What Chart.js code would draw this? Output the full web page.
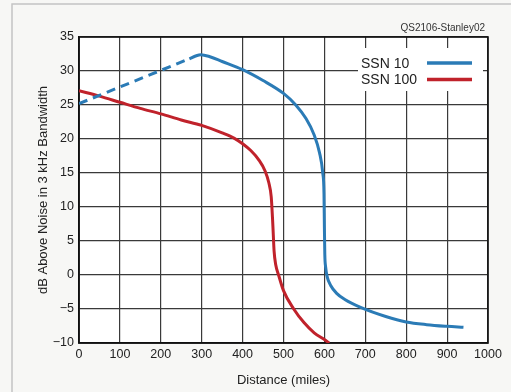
<!DOCTYPE html>
<html>
<head>
<meta charset="utf-8">
<script src="https://cdn.jsdelivr.net/npm/chart.js@4/dist/chart.umd.min.js"></script>
<style>
  html, body { margin: 0; padding: 0; background: #f7f7f5; }
  #wrap { width: 511px; height: 392px; position: relative; }
</style>
</head>
<body>
<div id="wrap"><canvas id="chart" width="511" height="392"></canvas></div>
<script>
// SSN 10, dashed part (extrapolated)
const ssn10DashDist = [0, 270]
const ssn10DashDb = [25.2, 31.8]

// SSN 10, solid part
const ssn10Dist = [270, 285, 298, 320, 350, 400, 450, 500, 530, 555, 575, 588, 596, 599, 600, 601, 603, 607, 615, 630, 650, 690, 750, 800, 850, 900, 940]
const ssn10Db = [31.8, 32.2, 32.4, 32.1, 31.4, 30.2, 28.6, 26.7, 25.0, 23.0, 20.6, 18.0, 15.0, 12.0, 7.0, 3.0, 1.2, -0.3, -1.5, -2.7, -3.6, -4.8, -6.1, -6.9, -7.3, -7.55, -7.7]

// SSN 100
const ssn100Dist = [0, 50, 100, 150, 200, 250, 300, 350, 380, 400, 420, 440, 455, 464, 470, 473, 475, 477, 481, 488, 500, 525, 550, 575, 600, 612]
const ssn100Db = [27.1, 26.3, 25.4, 24.5, 23.7, 22.8, 22.0, 20.9, 20.1, 19.3, 18.3, 16.9, 15.3, 13.6, 11.5, 8.5, 6.0, 3.5, 1.5, 0.0, -2.3, -5.0, -7.0, -8.5, -9.5, -10]

const legendLabels = ['SSN 10', 'SSN 100']
const blue = '#2b7bb6'
const red = '#c0222b'

function pts(xs, ys) {
  return xs.map((x, i) => ({ x: x, y: ys[i] }))
}

const fontFam = '"Liberation Sans", Arial, sans-serif'

const extras = {
  id: 'extras',
  beforeDraw(chart) {
    const { ctx, chartArea: a } = chart
    ctx.save()
    ctx.fillStyle = '#ffffff'
    ctx.fillRect(a.left, a.top, a.right - a.left, a.bottom - a.top)
    // outer frame
    ctx.strokeStyle = '#c4c4c4'
    ctx.lineWidth = 1.5
    ctx.beginPath()
    ctx.moveTo(12, 392)
    ctx.lineTo(12, 4)
    ctx.lineTo(511, 4)
    ctx.stroke()
    ctx.restore()
  },
  beforeDatasetsDraw(chart) {
    const { ctx, chartArea: a } = chart
    ctx.save()
    ctx.strokeStyle = '#111'
    ctx.lineWidth = 1.6
    ctx.strokeRect(a.left, a.top, a.right - a.left, a.bottom - a.top)
    ctx.restore()
  },
  afterDatasetsDraw(chart) {
    const { ctx, chartArea: a } = chart
    ctx.save()
    // legend box
    const bx = a.right - 130, by = a.top + 11
    ctx.fillStyle = '#ffffff'
    ctx.fillRect(bx, by, 125, 43)
    ctx.font = '14px ' + fontFam
    ctx.textBaseline = 'middle'
    ctx.textAlign = 'left'
    const cols = [blue, red]
    legendLabels.forEach((lab, i) => {
      const yy = by + 15 + i * 16.6
      ctx.fillStyle = '#222'
      ctx.fillText(lab, bx + 3, yy + 1)
      ctx.strokeStyle = cols[i]
      ctx.lineWidth = 3.5
      ctx.beginPath()
      ctx.moveTo(bx + 69, yy)
      ctx.lineTo(bx + 114, yy)
      ctx.stroke()
    })
    // figure id
    ctx.fillStyle = '#333'
    ctx.font = '10px ' + fontFam
    ctx.textAlign = 'right'
    ctx.textBaseline = 'alphabetic'
    ctx.fillText('QS2106-Stanley02', a.right - 3, a.top - 6)
    ctx.restore()
  }
}

new Chart(document.getElementById('chart'), {
  type: 'scatter',
  data: {
    datasets: [
      {
        data: pts(ssn10DashDist, ssn10DashDb),
        showLine: true,
        borderColor: blue,
        borderWidth: 3,
        borderDash: [9, 6],
        pointRadius: 0
      },
      {
        label: legendLabels[0],
        data: pts(ssn10Dist, ssn10Db),
        showLine: true,
        borderColor: blue,
        borderWidth: 3,
        pointRadius: 0,
        cubicInterpolationMode: 'monotone'
      },
      {
        label: legendLabels[1],
        data: pts(ssn100Dist, ssn100Db),
        showLine: true,
        borderColor: red,
        borderWidth: 3,
        pointRadius: 0,
        cubicInterpolationMode: 'monotone'
      }
    ]
  },
  options: {
    responsive: false,
    animation: false,
    layout: { padding: { left: 36, right: 23, top: 37, bottom: 0 } },
    plugins: {
      legend: { display: false },
      tooltip: { enabled: false }
    },
    scales: {
      x: {
        type: 'linear',
        min: 0,
        max: 1000,
        ticks: {
          stepSize: 100,
          color: '#222',
          font: { family: fontFam, size: 12.5 },
          padding: 4,
          maxRotation: 0,
          callback: v => String(v)
        },
        grid: { color: '#3a3a3a', lineWidth: 1.2, drawTicks: false },
        border: { color: '#111', width: 1.6 },
        title: { display: true, text: 'Distance (miles)', color: '#222', font: { family: fontFam, size: 13 }, padding: { top: 3 } },
        afterFit(s) { s.height = 49 }
      },
      y: {
        min: -10,
        max: 35,
        ticks: {
          stepSize: 5,
          color: '#222',
          font: { family: fontFam, size: 12.5 },
          padding: 5,
          callback: v => String(v).replace('-', '\u2212')
        },
        grid: { color: '#3a3a3a', lineWidth: 1.2, drawTicks: false },
        border: { color: '#111', width: 1.6 },
        title: { display: true, text: 'dB Above Noise in 3 kHz Bandwidth', color: '#222', font: { family: fontFam, size: 13 }, padding: { top: 0, bottom: 0 } },
        afterFit(s) { s.width = 43 }
      }
    }
  },
  plugins: [extras]
})
</script>
</body>
</html>
